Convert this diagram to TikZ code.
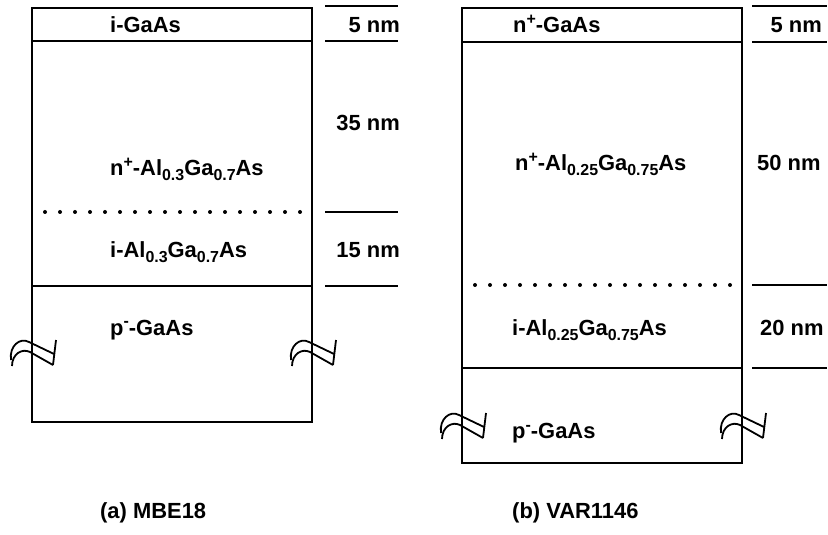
\documentclass[tikz,border=0pt]{standalone}
\usepackage{fontspec}
\setmainfont{Liberation Sans}
\newcommand{\lsub}[1]{\raisebox{-5bp}{\fontsize{16}{16}\selectfont #1}}
\newcommand{\lsup}[1]{\raisebox{8bp}{\fontsize{16}{16}\selectfont #1}}

\begin{document}
\begin{tikzpicture}[
    x=1bp, y=-1bp,
    every node/.style={font=\fontsize{22}{26}\selectfont\bfseries, inner sep=0pt},
    txt/.style={anchor=base west},
    thk/.style={anchor=base east},
    edge/.style={line width=2bp},
    dots/.style={line width=4bp, line cap=round, dash pattern=on 0bp off 15bp},
    tick/.style={line width=2bp},
    brk/.pic={\draw[line width=1.8bp]
        (-21,8) .. controls (-23,-6) and (-12,-15) .. (-3,-10) -- (22,2)
        (-20,14) .. controls (-20,2) and (-10,-4) .. (-2,0) -- (21,13)
        (24,-12) -- (21,13);}
]
\useasboundingbox (0,0) rectangle (828,535);

% (a) MBE18
\draw[edge] (32,8) rectangle (312,422);
\draw[edge] (32,41) -- (312,41);
\draw[dots] (45,212) -- (308,212);
\draw[edge] (32,286) -- (312,286);
\foreach \y in {6,41,212,286}
    \draw[tick] (325,\y) -- (398,\y);
\pic at (32,352) {brk};
\pic at (312,352) {brk};

\node[txt] (capA) at (110,33) {i-GaAs};
\node[txt] (dopA) at (110,176) {n\lsup{+}-Al\lsub{0.3}Ga\lsub{0.7}As};
\node[txt] (spcA) at (110,258) {i-Al\lsub{0.3}Ga\lsub{0.7}As};
\node[txt] (subA) at (110,335) {p\lsup{-}-GaAs};
\node[thk] (tcapA) at (400,33) {5 nm};
\node[thk] (tdopA) at (400,131) {35 nm};
\node[thk] (tspcA) at (400,258) {15 nm};
\node[txt] (nameA) at (100,518) {(a) MBE18};

% (b) VAR1146
\draw[edge] (462,8) rectangle (742,463);
\draw[edge] (462,42) -- (742,42);
\draw[dots] (475,285) -- (738,285);
\draw[edge] (462,368) -- (742,368);
\foreach \y in {6,42,285,368}
    \draw[tick] (752,\y) -- (827,\y);
\pic at (462,425) {brk};
\pic at (742,425) {brk};

\node[txt] (capB) at (513,33) {n\lsup{+}-GaAs};
\node[txt] (dopB) at (515,171) {n\lsup{+}-Al\lsub{0.25}Ga\lsub{0.75}As};
\node[txt] (spcB) at (512,335) {i-Al\lsub{0.25}Ga\lsub{0.75}As};
\node[txt] (subB) at (512,438) {p\lsup{-}-GaAs};
\node[thk] (tcapB) at (822,33) {5 nm};
\node[txt] (tdopB) at (757,171) {50 nm};
\node[txt] (tspcB) at (760,335) {20 nm};
\node[txt] (nameB) at (512,518) {(b) VAR1146};
\end{tikzpicture}
\end{document}
